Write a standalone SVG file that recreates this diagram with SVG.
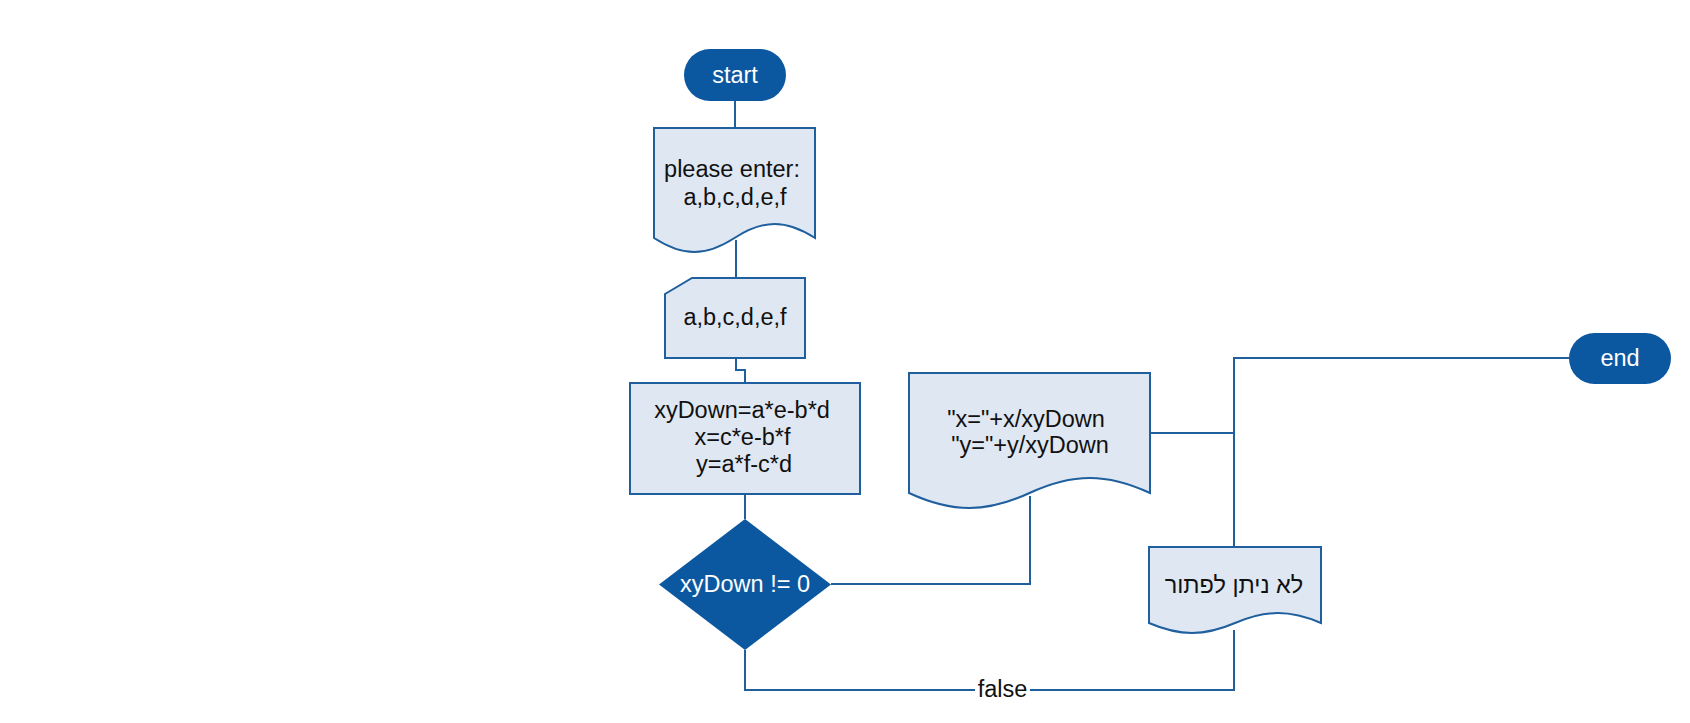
<svg xmlns="http://www.w3.org/2000/svg" width="1690" height="723" viewBox="0 0 1690 723">
<style>
.term{fill:#0c58a0;}
.dec{fill:#0c58a0;}
.box{fill:#dfe7f2;stroke:#1f5f9e;stroke-width:2;}
.t{font-family:"Liberation Sans",Arial,"DejaVu Sans",sans-serif;font-size:23.5px;fill:#111;text-anchor:middle;}
.tw{font-family:"Liberation Sans",Arial,"DejaVu Sans",sans-serif;font-size:23.5px;fill:#fff;text-anchor:middle;}
.c{fill:none;stroke:#1f5f9e;stroke-width:2;}
</style>
<rect width="1690" height="723" fill="#fff"/>
<g id="connectors">
<path class="c" d="M735,101 V128"/>
<path class="c" d="M736,240 V278"/>
<path class="c" d="M736,358 V370 H745 V383"/>
<path class="c" d="M745,494 V519"/>
<path class="c" d="M831,584 H1030 V496"/>
<path class="c" d="M745,650 V690 H1234 V630"/>
<path class="c" d="M1150,433 H1234"/>
<path class="c" d="M1234,547 V358 H1569"/>
<rect x="975" y="677" width="55" height="26" fill="#fff"/>
<text class="t" x="1002.5" y="697">false</text>
</g>
<g id="start">
<rect class="term" x="684" y="49" width="102" height="52" rx="26"/>
<text class="tw" x="735" y="83">start</text>
</g>
<g id="input-prompt">
<path class="box" d="M654,128 H815 V238 C786,219.3 763.5,219.3 734.5,238 C705.5,256.7 683,256.7 654,238 Z"/>
<text class="t" x="732" y="177">please enter:</text>
<text class="t" x="735" y="205">a,b,c,d,e,f</text>
</g>
<g id="manual-input">
<path class="box" d="M665,294 L692,278 H805 V358 H665 Z"/>
<text class="t" x="735" y="325">a,b,c,d,e,f</text>
</g>
<g id="process">
<rect class="box" x="630" y="383" width="230" height="111"/>
<text class="t" x="742" y="418">xyDown=a*e-b*d</text>
<text class="t" x="742.5" y="445">x=c*e-b*f</text>
<text class="t" x="744" y="472">y=a*f-c*d</text>
</g>
<g id="decision">
<polygon class="dec" points="745,519 831,584.5 745,650 659,584.5"/>
<text class="tw" x="745" y="592">xyDown != 0</text>
</g>
<g id="output-result">
<path class="box" d="M909,373 H1150 V493 C1106.6,473 1072.9,473 1029.5,493 C986.1,513 952.4,513 909,493 Z"/>
<text class="t" x="1026" y="427">"x="+x/xyDown</text>
<text class="t" x="1030" y="453">"y="+y/xyDown</text>
</g>
<g id="output-nosolution">
<path class="box" d="M1149,547 H1321 V623 C1290,609.7 1266,609.7 1235,623 C1204,636.3 1180,636.3 1149,623 Z"/>
<text class="t" x="1234" y="593">לא ניתן לפתור</text>
</g>
<g id="end">
<rect class="term" x="1569" y="333" width="102" height="51" rx="25.5"/>
<text class="tw" x="1620" y="366">end</text>
</g>
</svg>
